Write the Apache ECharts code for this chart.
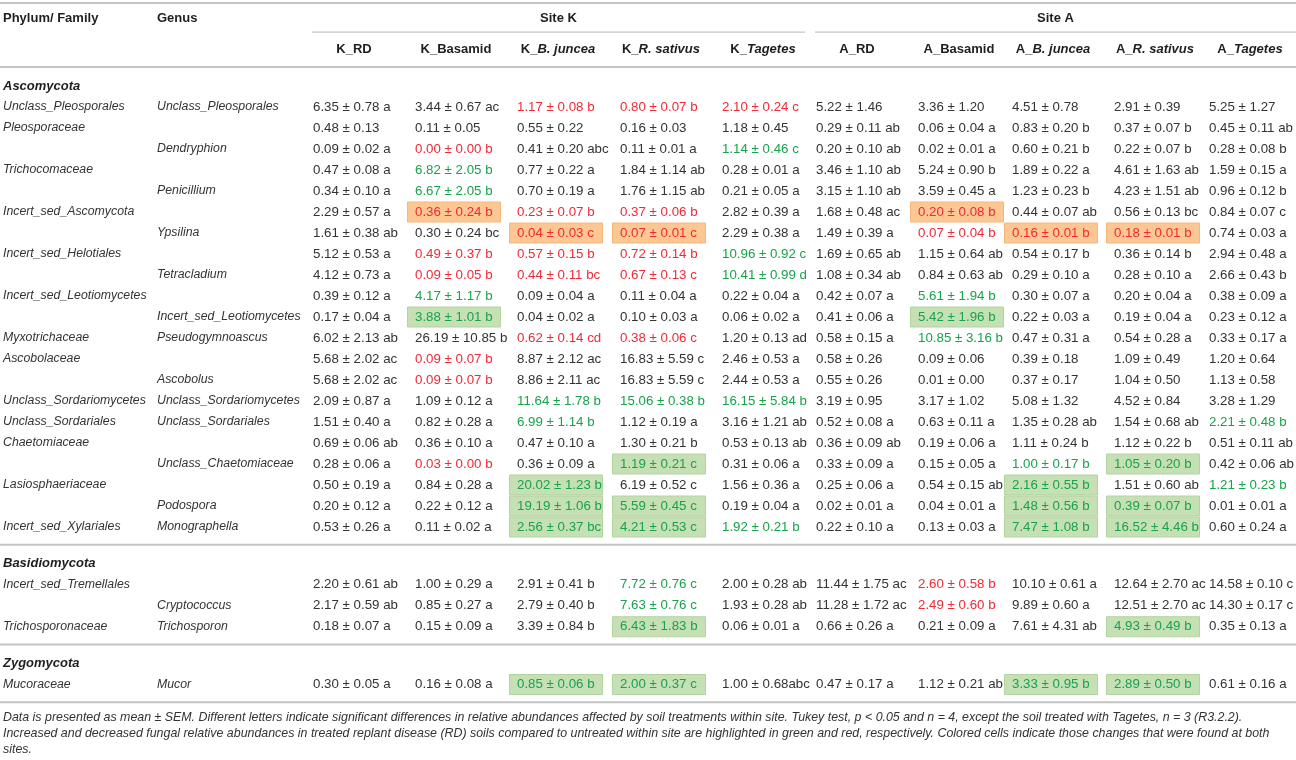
<!DOCTYPE html>
<html>
<head>
<meta charset="utf-8">
<title>Fungal relative abundances by site and soil treatment</title>
<script src="https://cdn.jsdelivr.net/npm/echarts@6.0.0/dist/echarts.min.js"></script>
<style>
html, body { margin: 0; padding: 0; background: #fff; }
#main { width: 1296px; height: 760px; }
</style>
</head>
<body>
<div id="main"></div>
<script>
// ---- table content ----
var phyla = ['Ascomycota', 'Basidiomycota', 'Zygomycota'];
var rowPhylum = [0,0,0,0,0,0,0,0,0,0,0,0,0,0,0,0,0,0,0,0,0,1,1,1,2];

var families = ['Unclass_Pleosporales', 'Pleosporaceae', '', 'Trichocomaceae', '', 'Incert_sed_Ascomycota', '',
    'Incert_sed_Helotiales', '', 'Incert_sed_Leotiomycetes', '', 'Myxotrichaceae', 'Ascobolaceae', '',
    'Unclass_Sordariomycetes', 'Unclass_Sordariales', 'Chaetomiaceae', '', 'Lasiosphaeriaceae', '',
    'Incert_sed_Xylariales', 'Incert_sed_Tremellales', '', 'Trichosporonaceae', 'Mucoraceae'];
var genera = ['Unclass_Pleosporales', '', 'Dendryphion', '', 'Penicillium', '', 'Ypsilina', '', 'Tetracladium', '',
    'Incert_sed_Leotiomycetes', 'Pseudogymnoascus', '', 'Ascobolus', 'Unclass_Sordariomycetes', 'Unclass_Sordariales',
    '', 'Unclass_Chaetomiaceae', '', 'Podospora', 'Monographella', '', 'Cryptococcus', 'Trichosporon', 'Mucor'];

var headLabels = ['Phylum/ Family', 'Genus'];
var sites = ['Site K', 'Site A'];
var treatments = ['K_RD', 'K_Basamid', 'K_B. juncea', 'K_R. sativus', 'K_Tagetes',
    'A_RD', 'A_Basamid', 'A_B. juncea', 'A_R. sativus', 'A_Tagetes'];
var treatmentItalic = [false, false, true, true, true, false, false, true, true, true];

// mean ± SEM with letters, one array per treatment
var kRD = ['6.35 ± 0.78 a','0.48 ± 0.13','0.09 ± 0.02 a','0.47 ± 0.08 a','0.34 ± 0.10 a','2.29 ± 0.57 a','1.61 ± 0.38 ab','5.12 ± 0.53 a','4.12 ± 0.73 a','0.39 ± 0.12 a','0.17 ± 0.04 a','6.02 ± 2.13 ab','5.68 ± 2.02 ac','5.68 ± 2.02 ac','2.09 ± 0.87 a','1.51 ± 0.40 a','0.69 ± 0.06 ab','0.28 ± 0.06 a','0.50 ± 0.19 a','0.20 ± 0.12 a','0.53 ± 0.26 a','2.20 ± 0.61 ab','2.17 ± 0.59 ab','0.18 ± 0.07 a','0.30 ± 0.05 a'];
var kBasamid = ['3.44 ± 0.67 ac','0.11 ± 0.05','0.00 ± 0.00 b','6.82 ± 2.05 b','6.67 ± 2.05 b','0.36 ± 0.24 b','0.30 ± 0.24 bc','0.49 ± 0.37 b','0.09 ± 0.05 b','4.17 ± 1.17 b','3.88 ± 1.01 b','26.19 ± 10.85 b','0.09 ± 0.07 b','0.09 ± 0.07 b','1.09 ± 0.12 a','0.82 ± 0.28 a','0.36 ± 0.10 a','0.03 ± 0.00 b','0.84 ± 0.28 a','0.22 ± 0.12 a','0.11 ± 0.02 a','1.00 ± 0.29 a','0.85 ± 0.27 a','0.15 ± 0.09 a','0.16 ± 0.08 a'];
var kJuncea = ['1.17 ± 0.08 b','0.55 ± 0.22','0.41 ± 0.20 abc','0.77 ± 0.22 a','0.70 ± 0.19 a','0.23 ± 0.07 b','0.04 ± 0.03 c','0.57 ± 0.15 b','0.44 ± 0.11 bc','0.09 ± 0.04 a','0.04 ± 0.02 a','0.62 ± 0.14 cd','8.87 ± 2.12 ac','8.86 ± 2.11 ac','11.64 ± 1.78 b','6.99 ± 1.14 b','0.47 ± 0.10 a','0.36 ± 0.09 a','20.02 ± 1.23 b','19.19 ± 1.06 b','2.56 ± 0.37 bc','2.91 ± 0.41 b','2.79 ± 0.40 b','3.39 ± 0.84 b','0.85 ± 0.06 b'];
var kSativus = ['0.80 ± 0.07 b','0.16 ± 0.03','0.11 ± 0.01 a','1.84 ± 1.14 ab','1.76 ± 1.15 ab','0.37 ± 0.06 b','0.07 ± 0.01 c','0.72 ± 0.14 b','0.67 ± 0.13 c','0.11 ± 0.04 a','0.10 ± 0.03 a','0.38 ± 0.06 c','16.83 ± 5.59 c','16.83 ± 5.59 c','15.06 ± 0.38 b','1.12 ± 0.19 a','1.30 ± 0.21 b','1.19 ± 0.21 c','6.19 ± 0.52 c','5.59 ± 0.45 c','4.21 ± 0.53 c','7.72 ± 0.76 c','7.63 ± 0.76 c','6.43 ± 1.83 b','2.00 ± 0.37 c'];
var kTagetes = ['2.10 ± 0.24 c','1.18 ± 0.45','1.14 ± 0.46 c','0.28 ± 0.01 a','0.21 ± 0.05 a','2.82 ± 0.39 a','2.29 ± 0.38 a','10.96 ± 0.92 c','10.41 ± 0.99 d','0.22 ± 0.04 a','0.06 ± 0.02 a','1.20 ± 0.13 ad','2.46 ± 0.53 a','2.44 ± 0.53 a','16.15 ± 5.84 b','3.16 ± 1.21 ab','0.53 ± 0.13 ab','0.31 ± 0.06 a','1.56 ± 0.36 a','0.19 ± 0.04 a','1.92 ± 0.21 b','2.00 ± 0.28 ab','1.93 ± 0.28 ab','0.06 ± 0.01 a','1.00 ± 0.68abc'];
var aRD = ['5.22 ± 1.46','0.29 ± 0.11 ab','0.20 ± 0.10 ab','3.46 ± 1.10 ab','3.15 ± 1.10 ab','1.68 ± 0.48 ac','1.49 ± 0.39 a','1.69 ± 0.65 ab','1.08 ± 0.34 ab','0.42 ± 0.07 a','0.41 ± 0.06 a','0.58 ± 0.15 a','0.58 ± 0.26','0.55 ± 0.26','3.19 ± 0.95','0.52 ± 0.08 a','0.36 ± 0.09 ab','0.33 ± 0.09 a','0.25 ± 0.06 a','0.02 ± 0.01 a','0.22 ± 0.10 a','11.44 ± 1.75 ac','11.28 ± 1.72 ac','0.66 ± 0.26 a','0.47 ± 0.17 a'];
var aBasamid = ['3.36 ± 1.20','0.06 ± 0.04 a','0.02 ± 0.01 a','5.24 ± 0.90 b','3.59 ± 0.45 a','0.20 ± 0.08 b','0.07 ± 0.04 b','1.15 ± 0.64 ab','0.84 ± 0.63 ab','5.61 ± 1.94 b','5.42 ± 1.96 b','10.85 ± 3.16 b','0.09 ± 0.06','0.01 ± 0.00','3.17 ± 1.02','0.63 ± 0.11 a','0.19 ± 0.06 a','0.15 ± 0.05 a','0.54 ± 0.15 ab','0.04 ± 0.01 a','0.13 ± 0.03 a','2.60 ± 0.58 b','2.49 ± 0.60 b','0.21 ± 0.09 a','1.12 ± 0.21 ab'];
var aJuncea = ['4.51 ± 0.78','0.83 ± 0.20 b','0.60 ± 0.21 b','1.89 ± 0.22 a','1.23 ± 0.23 b','0.44 ± 0.07 ab','0.16 ± 0.01 b','0.54 ± 0.17 b','0.29 ± 0.10 a','0.30 ± 0.07 a','0.22 ± 0.03 a','0.47 ± 0.31 a','0.39 ± 0.18','0.37 ± 0.17','5.08 ± 1.32','1.35 ± 0.28 ab','1.11 ± 0.24 b','1.00 ± 0.17 b','2.16 ± 0.55 b','1.48 ± 0.56 b','7.47 ± 1.08 b','10.10 ± 0.61 a','9.89 ± 0.60 a','7.61 ± 4.31 ab','3.33 ± 0.95 b'];
var aSativus = ['2.91 ± 0.39','0.37 ± 0.07 b','0.22 ± 0.07 b','4.61 ± 1.63 ab','4.23 ± 1.51 ab','0.56 ± 0.13 bc','0.18 ± 0.01 b','0.36 ± 0.14 b','0.28 ± 0.10 a','0.20 ± 0.04 a','0.19 ± 0.04 a','0.54 ± 0.28 a','1.09 ± 0.49','1.04 ± 0.50','4.52 ± 0.84','1.54 ± 0.68 ab','1.12 ± 0.22 b','1.05 ± 0.20 b','1.51 ± 0.60 ab','0.39 ± 0.07 b','16.52 ± 4.46 b','12.64 ± 2.70 ac','12.51 ± 2.70 ac','4.93 ± 0.49 b','2.89 ± 0.50 b'];
var aTagetes = ['5.25 ± 1.27','0.45 ± 0.11 ab','0.28 ± 0.08 b','1.59 ± 0.15 a','0.96 ± 0.12 b','0.84 ± 0.07 c','0.74 ± 0.03 a','2.94 ± 0.48 a','2.66 ± 0.43 b','0.38 ± 0.09 a','0.23 ± 0.12 a','0.33 ± 0.17 a','1.20 ± 0.64','1.13 ± 0.58','3.28 ± 1.29','2.21 ± 0.48 b','0.51 ± 0.11 ab','0.42 ± 0.06 ab','1.21 ± 0.23 b','0.01 ± 0.01 a','0.60 ± 0.24 a','14.58 ± 0.10 c','14.30 ± 0.17 c','0.35 ± 0.13 a','0.61 ± 0.16 a'];

// change vs RD, one char per row: . none, r down, g up, R down at both sites, G up at both sites
var kRDMark       = '.........................';
var kBasamidMark  = '..rggR.rrgG.rr...r.......';
var kJunceaMark   = 'r....rRrr..r..gg..GGG...G';
var kSativusMark  = 'r....rRrr..r..g..G.GGggGG';
var kTagetesMark  = 'r.g....gg.....g.....g....';
var aRDMark       = '.........................';
var aBasamidMark  = '.....Rr..gGg.........rr..';
var aJunceaMark   = '......R..........gGGG...G';
var aSativusMark  = '......R..........G.GG..GG';
var aTagetesMark  = '...............g..g......';

var footnotes = [
    'Data is presented as mean ± SEM. Different letters indicate significant differences in relative abundances affected by soil treatments within site. Tukey test, p < 0.05 and n = 4, except the soil treated with Tagetes, n = 3 (R3.2.2).',
    'Increased and decreased fungal relative abundances in treated replant disease (RD) soils compared to untreated within site are highlighted in green and red, respectively. Colored cells indicate those changes that were found at both',
    'sites.'
];

// ---- layout ----
var W = 1296, H = 760;
var ROW_PX = 21, FIRST_ROW_PX = 107;          // row pitch and centre of first body row
var colX = [3, 157, 305, 407, 509, 612, 714, 808, 910, 1004, 1106, 1201, 1296]; // column left edges
var TEXT_PAD = 8, BOX_W = 93;
var FONT = '"Liberation Sans", Arial, Helvetica, sans-serif';
var INK = '#333333', HEAD_INK = '#1f1f1f', RED = '#ee2a36', GREEN = '#18a24b', RULE = '#c4c4c4';
var fills = {R: ['#fcc793', '#f7b67c'], G: ['#c6e0b5', '#b2d59d']};

// header lines in row units (0 = first body row)
var yTopRule = -4.95, yHead1 = -4.24, ySiteLine = -3.57, yHead2 = -2.72, yHeadRule = -1.9;

var columns = [kRD, kBasamid, kJuncea, kSativus, kTagetes, aRD, aBasamid, aJuncea, aSativus, aTagetes];
var marks = [kRDMark, kBasamidMark, kJunceaMark, kSativusMark, kTagetesMark,
    aRDMark, aBasamidMark, aJunceaMark, aSativusMark, aTagetesMark];

var texts = [], boxes = [], rules = [];

function addText(x, y, str, opt) {
    opt = opt || {};
    texts.push({
        x: x, y: y, text: str,
        fill: opt.fill || INK,
        size: opt.size || 13,
        weight: opt.weight || 'normal',
        style: opt.style || 'normal',
        align: opt.align || 'left',
        rich: opt.rich
    });
}

// header
rules.push([0, yTopRule, W, 2]);
addText(colX[0], yHead1, headLabels[0], {weight: 'bold', fill: HEAD_INK});
addText(colX[1], yHead1, headLabels[1], {weight: 'bold', fill: HEAD_INK});
sites.forEach(function (s, i) {
    var x0 = colX[2 + i * 5] + 7;
    var x1 = i === sites.length - 1 ? W : colX[7 + i * 5] - 3;
    rules.push([x0, ySiteLine, x1, 1.2]);
    addText((x0 + x1) / 2, yHead1, s, {weight: 'bold', fill: HEAD_INK, align: 'center'});
});
var headRich = {
    b: {fontFamily: FONT, fontSize: 13, fontWeight: 'bold', fill: HEAD_INK},
    bi: {fontFamily: FONT, fontSize: 13, fontWeight: 'bold', fontStyle: 'italic', fill: HEAD_INK}
};
treatments.forEach(function (t, j) {
    var str = treatmentItalic[j] ? '{b|' + t.slice(0, 2) + '}{bi|' + t.slice(2) + '}' : '{b|' + t + '}';
    addText(colX[j + 2] + TEXT_PAD + 41, yHead2, str, {align: 'center', rich: headRich});
});
rules.push([0, yHeadRule, W, 2]);

// body
var y = yHeadRule;
phyla.forEach(function (name, p) {
    y += 0.9;
    addText(colX[0], y, name, {weight: 'bold', style: 'italic', fill: HEAD_INK});
    for (var r = 0; r < rowPhylum.length; r++) {
        if (rowPhylum[r] !== p) continue;
        y += 1;
        if (families[r]) addText(colX[0], y, families[r], {style: 'italic', size: 12.3});
        if (genera[r]) addText(colX[1], y, genera[r], {style: 'italic', size: 12.3});
        for (var j = 0; j < columns.length; j++) {
            var m = marks[j].charAt(r);
            var x = colX[j + 2] + TEXT_PAD;
            var fill = (m === 'r' || m === 'R') ? RED : (m === 'g' || m === 'G') ? GREEN : INK;
            if (m === 'R' || m === 'G') boxes.push({x: x - TEXT_PAD, y: y, kind: m});
            addText(x, y, columns[j][r], {fill: fill, size: 13.3});
        }
    }
    y += 0.85;
    rules.push([0, y, W, 2]);
});

// footnote
y += 0.74;
footnotes.forEach(function (line, i) {
    addText(colX[0], y + i * 0.76, line, {style: 'italic', size: 12.4});
});

// ---- chart ----
var chart = echarts.init(document.getElementById('main'));

var option = {
    animation: false,
    grid: {left: 0, right: 0, top: 0, bottom: 0},
    xAxis: {type: 'value', min: 0, max: W, show: false},
    yAxis: {type: 'value', inverse: true, show: false,
        min: -FIRST_ROW_PX / ROW_PX, max: (H - FIRST_ROW_PX) / ROW_PX},
    series: [{
        // highlighted cells
        type: 'custom',
        silent: true,
        z: 1,
        data: boxes.map(function (b) { return [b.x, b.y]; }),
        renderItem: function (params, api) {
            var b = boxes[params.dataIndex];
            var p0 = api.coord([api.value(0), api.value(1) - 0.5]);
            var p1 = api.coord([api.value(0) + BOX_W, api.value(1) + 0.5]);
            return {
                type: 'rect',
                shape: {x: p0[0] + 0.5, y: p0[1] + 0.5, width: p1[0] - p0[0], height: p1[1] - p0[1] - 1},
                style: {fill: fills[b.kind][0], stroke: fills[b.kind][1], lineWidth: 1}
            };
        }
    }, {
        // horizontal rules
        type: 'custom',
        silent: true,
        z: 2,
        encode: {x: [0, 2], y: 1},
        data: rules,
        renderItem: function (params, api) {
            var a = api.coord([api.value(0), api.value(1)]);
            var b = api.coord([api.value(2), api.value(1)]);
            return {
                type: 'line',
                shape: {x1: a[0], y1: a[1], x2: b[0], y2: b[1]},
                style: {stroke: RULE, lineWidth: api.value(3)}
            };
        }
    }, {
        // all table text
        type: 'custom',
        silent: true,
        z: 3,
        data: texts.map(function (t) { return [t.x, t.y]; }),
        renderItem: function (params, api) {
            var t = texts[params.dataIndex];
            var p = api.coord([api.value(0), api.value(1)]);
            var style = {
                text: t.text,
                fill: t.fill,
                fontFamily: FONT,
                fontSize: t.size,
                fontWeight: t.weight,
                fontStyle: t.style,
                align: t.align,
                verticalAlign: 'middle'
            };
            if (t.rich) style.rich = t.rich;
            return {type: 'text', x: p[0], y: p[1], style: style};
        }
    }]
};

chart.setOption(option);
</script>
</body>
</html>
